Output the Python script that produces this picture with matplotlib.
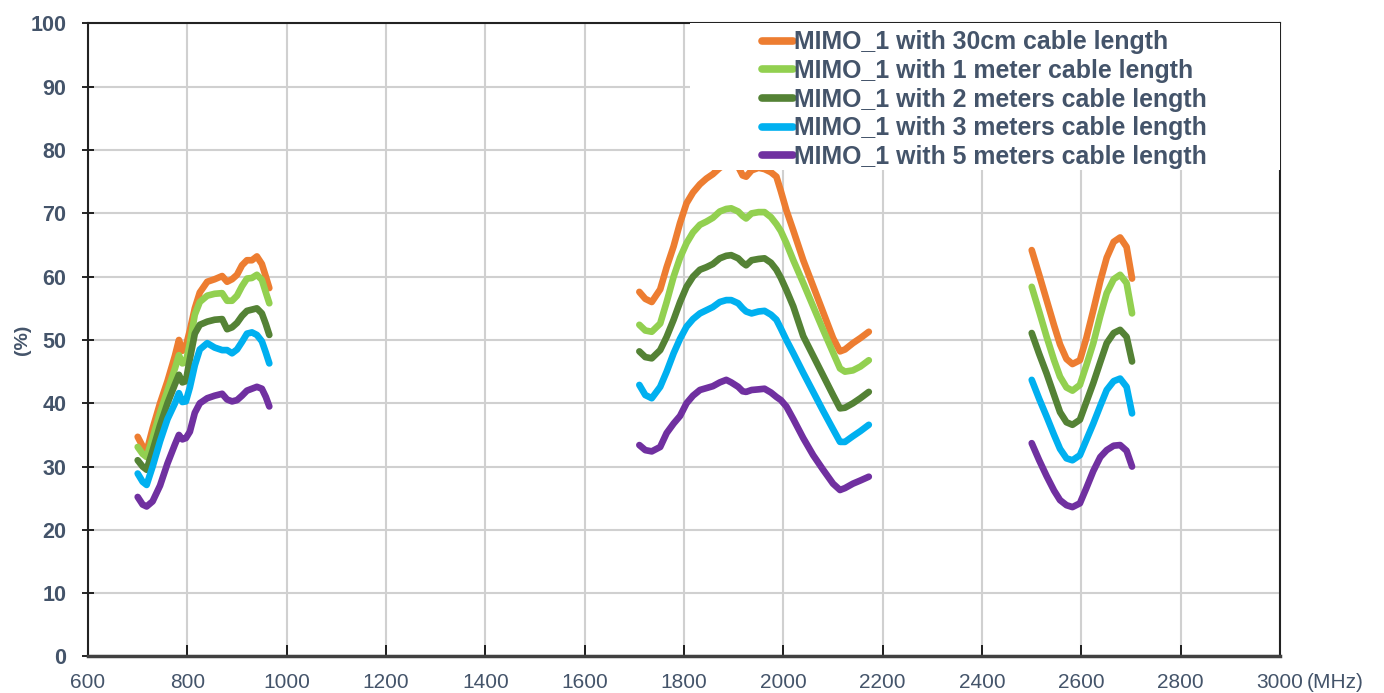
import numpy as np
import matplotlib
matplotlib.use("Agg")
import matplotlib.pyplot as plt
from matplotlib.patches import Rectangle

# ---------------- data ----------------
labels = [
    "MIMO_1 with 30cm cable length",
    "MIMO_1 with 1 meter cable length",
    "MIMO_1 with 2 meters cable length",
    "MIMO_1 with 3 meters cable length",
    "MIMO_1 with 5 meters cable length",
]
colors = ["#ED7D31", "#92D050", "#548235", "#00B0F0", "#7030A0"]

# Low band (MHz)
x_low = [700, 710, 718, 730, 745, 760, 775, 783, 790, 797, 805, 815, 825, 840,
         855, 870, 880, 890, 900, 910, 920, 930, 940, 950, 958, 965]
low_30cm = [34.7, 33.2, 32.4, 36.0, 40.0, 43.5, 47.5, 50.0, 48.3, 49.0, 51.5, 55.0, 57.5, 59.2,
            59.6, 60.1, 59.2, 59.6, 60.3, 61.8, 62.6, 62.6, 63.2, 62.0, 60.0, 58.2]
low_1m = [33.1, 32.0, 31.5, 34.5, 38.5, 42.0, 45.5, 47.6, 46.3, 46.5, 49.5, 54.0, 56.0, 57.0,
          57.3, 57.4, 56.2, 56.2, 57.0, 58.5, 59.7, 59.8, 60.3, 59.5, 57.5, 55.8]
low_2m = [31.0, 30.0, 29.5, 32.5, 36.5, 40.0, 43.0, 44.5, 43.3, 43.5, 47.0, 51.0, 52.4, 52.9,
          53.2, 53.3, 51.7, 52.0, 52.7, 53.8, 54.6, 54.8, 55.0, 54.2, 52.5, 50.8]
low_3m = [28.9, 27.6, 27.1, 30.0, 34.0, 37.5, 40.0, 41.6, 40.2, 40.3, 42.5, 46.0, 48.5, 49.5,
          48.8, 48.4, 48.4, 47.9, 48.5, 49.7, 51.0, 51.2, 50.8, 49.8, 48.0, 46.3]
low_5m = [25.2, 24.0, 23.7, 24.5, 27.0, 30.5, 33.5, 35.0, 34.3, 34.5, 35.5, 38.5, 40.0, 40.8,
          41.2, 41.5, 40.6, 40.3, 40.5, 41.2, 42.0, 42.3, 42.6, 42.3, 41.0, 39.5]

# Mid band (MHz)
x_mid = [1710, 1722, 1735, 1752, 1765, 1779, 1792, 1805, 1818, 1832, 1845, 1858, 1872, 1885,
         1895, 1909, 1918, 1925, 1936, 1950, 1962, 1975, 1986, 1995, 2006, 2020, 2040, 2060,
         2080, 2100, 2114, 2124, 2140, 2155, 2172]
mid_30cm = [57.6, 56.5, 56.0, 58.0, 61.5, 64.8, 68.5, 71.6, 73.3, 74.6, 75.5, 76.2, 77.2, 77.8,
            78.0, 77.4, 76.0, 75.8, 76.8, 77.2, 77.0, 76.5, 75.8, 73.5, 70.5, 67.3, 62.6, 58.5,
            54.4, 50.3, 48.2, 48.5, 49.5, 50.3, 51.3]
mid_1m = [52.4, 51.5, 51.3, 52.6, 56.0, 60.0, 63.0, 65.3, 67.0, 68.2, 68.7, 69.3, 70.3, 70.7,
          70.8, 70.3, 69.6, 69.2, 70.0, 70.2, 70.2, 69.4, 68.3, 67.2, 65.3, 62.6, 59.0, 55.3,
          51.6, 48.0, 45.5, 45.0, 45.2, 45.8, 46.8]
mid_2m = [48.2, 47.3, 47.1, 48.4, 50.5, 53.2, 56.0, 58.4, 60.0, 61.1, 61.5, 62.0, 62.9, 63.3,
          63.4, 62.9, 62.2, 61.8, 62.6, 62.8, 62.9, 62.2, 61.1, 59.8, 57.9, 55.3, 50.6, 47.5,
          44.4, 41.3, 39.2, 39.3, 40.0, 40.8, 41.8]
mid_3m = [42.9, 41.3, 40.8, 42.6, 45.0, 47.9, 50.2, 52.1, 53.3, 54.2, 54.7, 55.2, 56.0, 56.3,
          56.3, 55.8, 55.0, 54.5, 54.2, 54.5, 54.6, 54.0, 53.2, 51.8, 50.0, 47.9, 44.8, 41.8,
          38.8, 35.9, 33.9, 33.9, 34.8, 35.6, 36.6]
mid_5m = [33.4, 32.6, 32.4, 33.1, 35.3, 36.8, 38.0, 40.0, 41.2, 42.1, 42.4, 42.7, 43.3, 43.7,
          43.3, 42.6, 41.9, 41.8, 42.1, 42.2, 42.3, 41.7, 41.0, 40.5, 39.5, 37.5, 34.5, 31.8,
          29.5, 27.3, 26.3, 26.6, 27.3, 27.8, 28.4]

# High band (MHz)
x_high = [2500, 2515, 2530, 2545, 2557, 2570, 2582, 2597, 2610, 2624, 2638, 2651, 2665, 2678,
          2691, 2702]
high_30cm = [64.2, 60.3, 56.3, 52.3, 49.3, 47.0, 46.2, 46.8, 50.3, 54.7, 59.3, 63.0, 65.5, 66.2,
             64.7, 59.7]
high_1m = [58.4, 54.5, 50.5, 46.8, 44.2, 42.5, 42.0, 42.9, 46.0, 49.5, 53.8, 57.4, 59.6, 60.3,
           59.0, 54.2]
high_2m = [51.1, 47.8, 44.7, 41.3, 38.6, 37.0, 36.6, 37.4, 40.2, 43.2, 46.5, 49.5, 51.1, 51.6,
           50.5, 46.6]
high_3m = [43.7, 40.7, 37.9, 35.0, 32.8, 31.3, 31.0, 31.8, 34.2, 36.8, 39.6, 42.1, 43.5, 43.9,
           42.6, 38.4]
high_5m = [33.7, 31.0, 28.5, 26.2, 24.7, 23.9, 23.6, 24.2, 26.6, 29.3, 31.5, 32.6, 33.3, 33.4,
           32.5, 30.0]

x_ticks = [600, 800, 1000, 1200, 1400, 1600, 1800, 2000, 2200, 2400, 2600, 2800, 3000]
y_ticks = [0, 10, 20, 30, 40, 50, 60, 70, 80, 90, 100]

# ---------------- plot ----------------
TXT = "#44546A"
FAM = ["Liberation Sans", "DejaVu Sans"]
fig = plt.figure(figsize=(13.84, 6.93), dpi=100)
ax = fig.add_axes([0.0636, 0.0527, 0.8613, 0.9134])

low = [low_30cm, low_1m, low_2m, low_3m, low_5m]
mid = [mid_30cm, mid_1m, mid_2m, mid_3m, mid_5m]
high = [high_30cm, high_1m, high_2m, high_3m, high_5m]
gap = [np.nan]
for i in range(5):
    xs = np.concatenate([x_low, [np.nan], x_mid, [np.nan], x_high])
    ys = np.concatenate([low[i], gap, mid[i], gap, high[i]])
    ax.plot(xs, ys, color=colors[i], lw=4.8, solid_capstyle="round",
            solid_joinstyle="round", label=labels[i], zorder=3)

ax.set_xlim(600, 3000)
ax.set_ylim(0, 100)
ax.set_xticks(x_ticks)
ax.set_yticks(y_ticks)
ax.grid(True, color="#D0D0D0", lw=1.5)
ax.set_axisbelow(True)

for s in ["left", "top", "right"]:
    ax.spines[s].set_color("#222222")
    ax.spines[s].set_linewidth(1.5)
ax.spines["bottom"].set_color("#404040")
ax.spines["bottom"].set_linewidth(2.5)

ax.tick_params(axis="y", direction="inout", length=9, width=1.2, pad=11,
               labelsize=15.5, labelcolor=TXT)
ax.tick_params(axis="x", direction="in", length=8, width=1.2, pad=12,
               labelsize=15, labelcolor=TXT)
for t in ax.get_yticklabels():
    t.set_fontweight("bold")
    t.set_family(FAM)
for t in ax.get_xticklabels():
    t.set_family(FAM)

fig.text(1307 / 1384, 1 - 683 / 693, "(MHz)", ha="left", va="center", fontsize=15,
         color=TXT, family=FAM)
fig.text(22 / 1384, 1 - 340 / 693, "(%)", ha="center", va="center", rotation=90,
         fontsize=14, fontweight="bold", color=TXT, family=FAM)

# white legend area covering the plot
ax.add_patch(Rectangle((0.505, 0.7686), 0.495, 0.2314, transform=ax.transAxes,
                       facecolor="white", edgecolor="none", zorder=4))
leg = ax.legend(loc="upper left", bbox_to_anchor=(0.565, 0.989), frameon=False,
                handlelength=1.25, handletextpad=0.05, labelspacing=0.185,
                borderaxespad=0, borderpad=0,
                prop={"family": FAM, "weight": "bold", "size": 17.9})
leg.set_zorder(5)
for t in leg.get_texts():
    t.set_color(TXT)
for ln in leg.get_lines():
    ln.set_linewidth(5.5)
    ln.set_solid_capstyle("round")

fig.savefig("out.png", dpi=100, facecolor="white")
